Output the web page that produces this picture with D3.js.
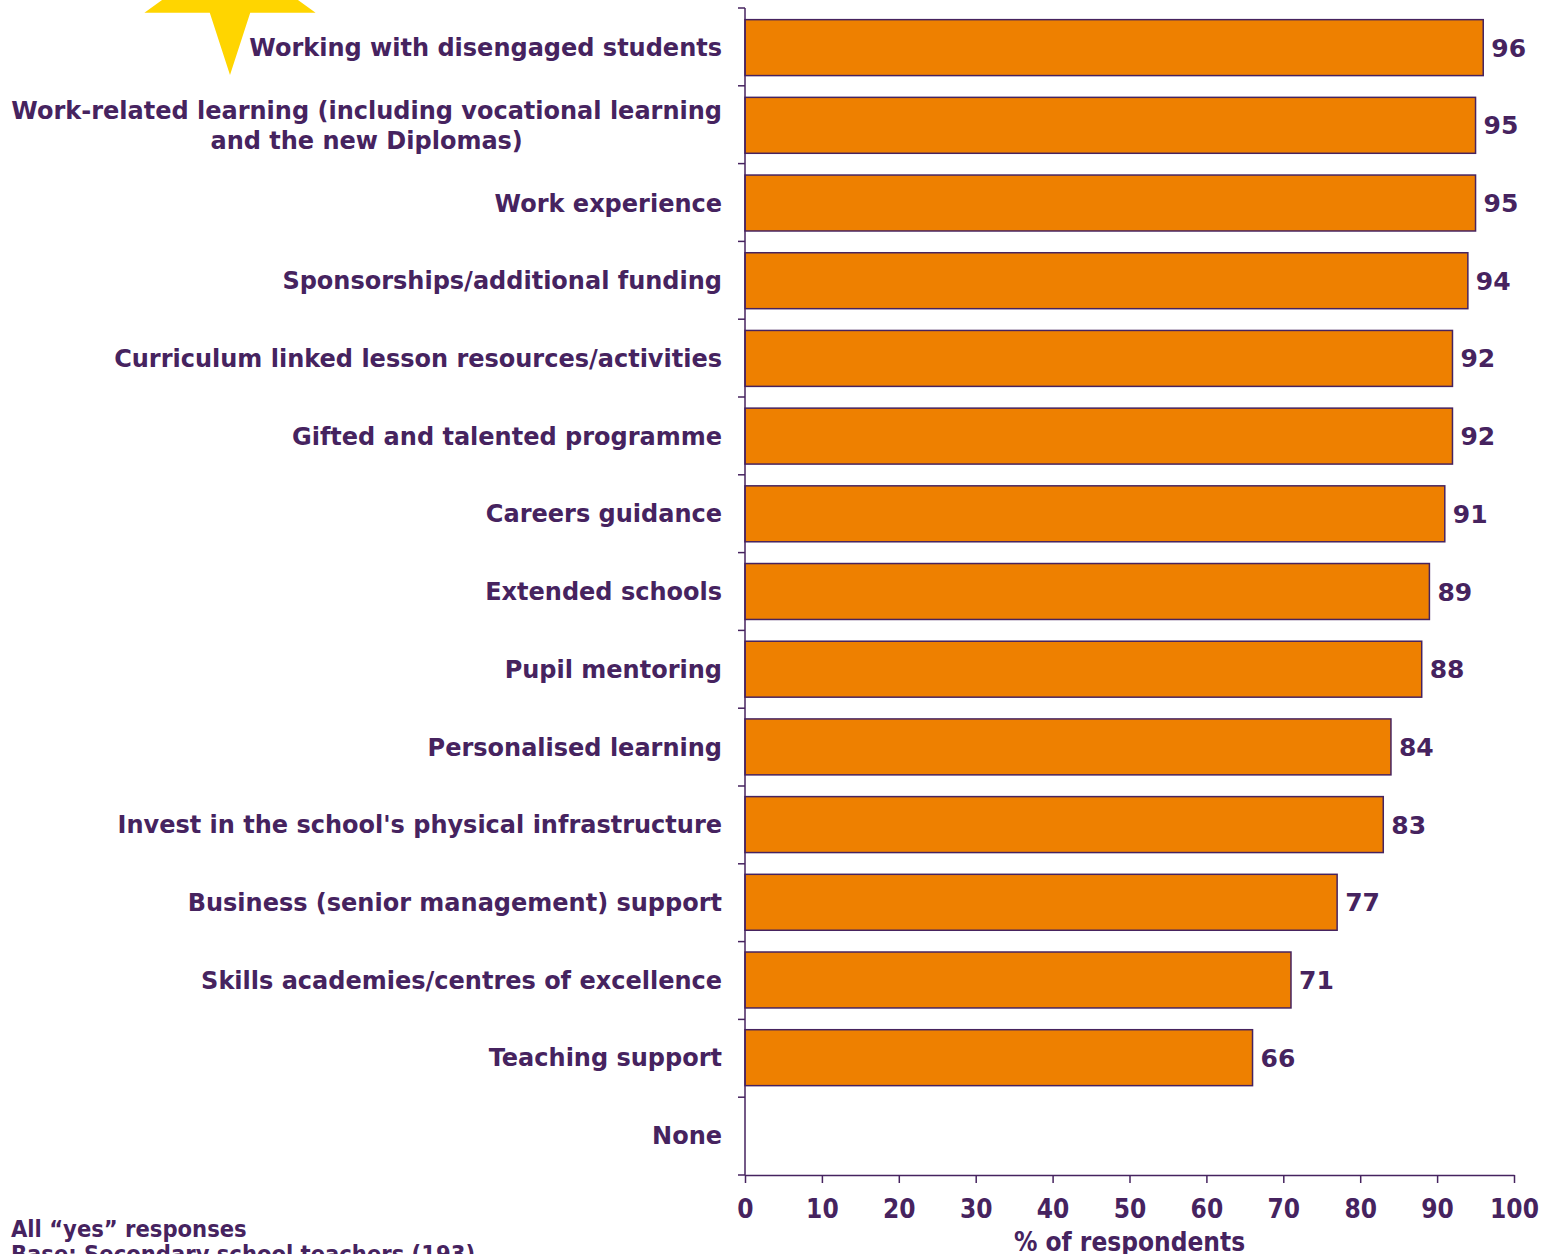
<!DOCTYPE html>
<html>
<head>
<meta charset="utf-8">
<script src="https://cdn.jsdelivr.net/npm/d3@7"></script>
<style>
  html, body { margin: 0; padding: 0; background: #ffffff; }
  svg { display: block; }
</style>
</head>
<body>
<svg id="chart" width="1545" height="1254"></svg>
<script>
// Survey items, top to bottom (the second label wraps onto two lines)
const categories = [
  ["Working with disengaged students"],
  ["Work-related learning (including vocational learning", "and the new Diplomas)"],
  ["Work experience"],
  ["Sponsorships/additional funding"],
  ["Curriculum linked lesson resources/activities"],
  ["Gifted and talented programme"],
  ["Careers guidance"],
  ["Extended schools"],
  ["Pupil mentoring"],
  ["Personalised learning"],
  ["Invest in the school's physical infrastructure"],
  ["Business (senior management) support"],
  ["Skills academies/centres of excellence"],
  ["Teaching support"],
  ["None"]
];
// % of respondents; "None" has no bar
const values = [96, 95, 95, 94, 92, 92, 91, 89, 88, 84, 83, 77, 71, 66, null];
const xTicks = [0, 10, 20, 30, 40, 50, 60, 70, 80, 90, 100];
const xTitle = "% of respondents";
const notes = ["All \u201cyes\u201d responses", "Base: Secondary school teachers (193)"];

const purple = "#46235f";
const orange = "#ee8000";
const starYellow = "#ffd500";
const labelFont = "'DejaVu Sans', Verdana, sans-serif";
const condFont = "'DejaVu Sans Condensed', 'DejaVu Sans', sans-serif";

const svg = d3.select("#chart");
const plot = { left: 745, right: 1514, top: 8, bottom: 1175 };

const x = d3.scaleLinear().domain([0, 100]).range([plot.left, plot.right]);
const y = d3.scaleBand()
  .domain(d3.range(categories.length))
  .range([plot.top, plot.bottom])
  .paddingInner(0.28)
  .paddingOuter(0.15);

// Highlight star beside the first item
const star = (cx, cy, R, r) => {
  const pts = [];
  for (let i = 0; i < 10; i++) {
    const a = Math.PI / 2 + i * Math.PI / 5;
    const rad = i % 2 === 0 ? R : r;
    pts.push([cx + rad * Math.cos(a), cy + rad * Math.sin(a)]);
  }
  return pts;
};
svg.append("polygon")
  .attr("points", star(230, -15, 90, 34.4).map(p => p.join(",")).join(" "))
  .attr("fill", starYellow);

// Bars
const bandEdge = i => plot.top + i * (plot.bottom - plot.top) / categories.length;
const barData = values.map((v, i) => ({ v, i })).filter(d => d.v !== null);
svg.append("g").selectAll("rect")
  .data(barData)
  .join("rect")
  .attr("x", x(0))
  .attr("y", d => y(d.i))
  .attr("width", d => x(d.v) - x(0))
  .attr("height", y.bandwidth())
  .attr("fill", orange)
  .attr("stroke", purple)
  .attr("stroke-width", 1.5);

// Value labels
svg.append("g").selectAll("text")
  .data(barData)
  .join("text")
  .attr("x", d => x(d.v) + 8)
  .attr("y", d => y(d.i) + y.bandwidth() / 2)
  .attr("dy", "0.36em")
  .attr("fill", purple)
  .attr("font-family", labelFont)
  .attr("font-weight", "bold")
  .attr("font-size", 25)
  .text(d => d.v);

// Y axis line and ticks at category boundaries
const yAxis = svg.append("g");
yAxis.append("line")
  .attr("x1", plot.left).attr("x2", plot.left)
  .attr("y1", plot.top).attr("y2", plot.bottom)
  .attr("stroke", purple).attr("stroke-width", 1.5);
yAxis.selectAll("line.tick")
  .data(d3.range(categories.length + 1))
  .join("line")
  .attr("class", "tick")
  .attr("x1", plot.left - 7).attr("x2", plot.left)
  .attr("y1", i => bandEdge(i)).attr("y2", i => bandEdge(i))
  .attr("stroke", purple).attr("stroke-width", 1.5);

// Category labels: block right-aligned, lines centred within the block
const catG = svg.append("g");
const labelRight = 722;
categories.forEach((lines, i) => {
  const cy = y(i) + y.bandwidth() / 2;
  const lh = 30;
  const texts = lines.map((line, j) => catG.append("text")
    .attr("y", cy + (j - (lines.length - 1) / 2) * lh)
    .attr("dy", "0.36em")
    .attr("text-anchor", "middle")
    .attr("fill", purple)
    .attr("font-family", labelFont)
    .attr("font-weight", "bold")
    .attr("font-size", 24)
    .text(line));
  const widest = d3.max(texts, t => t.node().getComputedTextLength());
  texts.forEach(t => t.attr("x", labelRight - widest / 2));
});

// X axis
const xAxis = d3.axisBottom(x).tickValues(xTicks).tickSize(8).tickSizeOuter(0);
const xg = svg.append("g")
  .attr("transform", `translate(0,${plot.bottom})`)
  .call(xAxis);
xg.select(".domain").attr("stroke", purple).attr("stroke-width", 1.5);
xg.selectAll(".tick line").attr("stroke", purple).attr("stroke-width", 1.5);
xg.selectAll(".tick text")
  .attr("fill", purple)
  .attr("y", 25)
  .attr("dy", "0.71em")
  .attr("font-family", condFont)
  .attr("font-weight", "bold")
  .attr("font-size", 26);

svg.append("text")
  .attr("x", (plot.left + plot.right) / 2)
  .attr("y", 1251)
  .attr("text-anchor", "middle")
  .attr("fill", purple)
  .attr("font-family", condFont)
  .attr("font-weight", "bold")
  .attr("font-size", 26)
  .text(xTitle);

// Footnotes
svg.append("g").selectAll("text")
  .data(notes)
  .join("text")
  .attr("x", 11)
  .attr("y", (d, i) => 1237 + i * 25)
  .attr("fill", purple)
  .attr("font-family", condFont)
  .attr("font-weight", "bold")
  .attr("font-size", 23.5)
  .text(d => d);
</script>
</body>
</html>
